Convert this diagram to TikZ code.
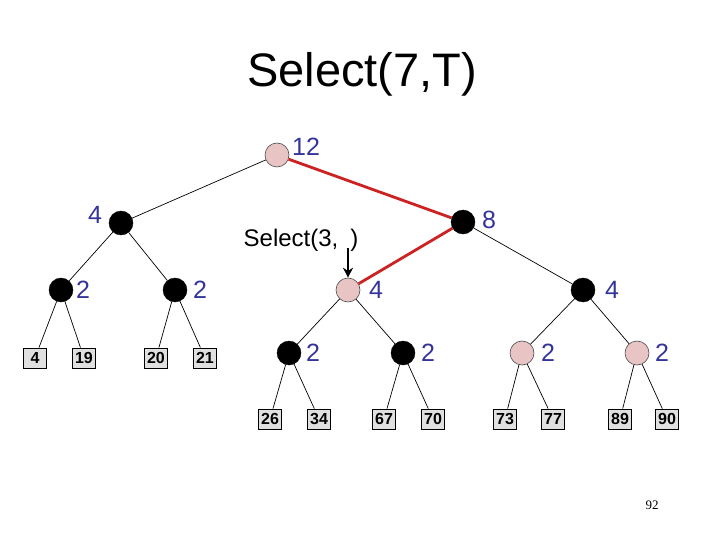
\documentclass[tikz,border=0pt]{standalone}
\usepackage{fontspec}
\setmainfont{Liberation Sans}
\newfontfamily\pagefont{Liberation Serif}
\usetikzlibrary{arrows.meta}
\definecolor{labelblue}{RGB}{51,51,153}
\definecolor{pathred}{RGB}{204,34,34}
\definecolor{dotpink}{RGB}{232,196,196}
\definecolor{leafgray}{RGB}{224,224,224}
\tikzset{
  blackknot/.style={circle,fill=black,draw=black,minimum size=24pt,inner sep=0pt},
  pinkknot/.style={circle,fill=dotpink,draw=black!70,line width=0.6pt,minimum size=24pt,inner sep=0pt},
  leafbox/.style={rectangle,fill=leafgray,draw=black,line width=0.8pt,minimum width=23pt,minimum height=20pt,inner sep=0pt,font=\fontsize{16}{16}\selectfont\bfseries},
  edge/.style={line width=0.7pt},
  rededge/.style={line width=2.8pt,pathred},
}
\begin{document}
\begin{tikzpicture}[x=1pt,y=-1pt]
  \useasboundingbox (0,0) rectangle (720,540);
  \def\knot#1#2#3#4#5#6#7{
    \node[#1] (#2) at (#3,#4){};
    \node[font=\fontsize{25}{25}\selectfont,labelblue] at (#6,#7){#5};
  }
  \def\leaf#1#2#3{
    \node[leafbox] (leaf#1) at (#2,#3){#1};
  }

  \node[font=\fontsize{47}{50}\selectfont] (title) at (362,74){Select(7,T)};

  %internal nodes
  \knot{pinkknot}{root}{277}{155}{12}{306}{147}
  \knot{blackknot}{l}{121}{223}{4}{95}{215}
  \knot{blackknot}{r}{463}{222}{8}{489}{220}
  \knot{blackknot}{ll}{61}{290}{2}{83}{290}
  \knot{blackknot}{lr}{175}{290}{2}{200}{290}
  \knot{pinkknot}{rl}{348}{290}{4}{376}{290}
  \knot{blackknot}{rr}{583}{290}{4}{612}{290}
  \knot{blackknot}{rll}{289}{353}{2}{313}{353}
  \knot{blackknot}{rlr}{403}{353}{2}{428}{353}
  \knot{pinkknot}{rrl}{522}{353}{2}{548}{353}
  \knot{pinkknot}{rrr}{637}{353}{2}{662}{353}

  %leaves
  \leaf{4}{35}{358}
  \leaf{19}{84}{358}
  \leaf{20}{156}{358}
  \leaf{21}{205}{358}
  \leaf{26}{270}{419}
  \leaf{34}{319}{419}
  \leaf{67}{384}{419}
  \leaf{70}{433}{419}
  \leaf{73}{505}{419}
  \leaf{77}{553}{419}
  \leaf{89}{620}{419}
  \leaf{90}{667}{419}

  %edges
  \draw[edge] (root) -- (l);
  \draw[edge] (l) -- (ll);
  \draw[edge] (l) -- (lr);
  \draw[edge] (ll) -- (leaf4);
  \draw[edge] (ll) -- (leaf19);
  \draw[edge] (lr) -- (leaf20);
  \draw[edge] (lr) -- (leaf21);
  \draw[edge] (r) -- (rr);
  \draw[edge] (rl) -- (rll);
  \draw[edge] (rl) -- (rlr);
  \draw[edge] (rr) -- (rrl);
  \draw[edge] (rr) -- (rrr);
  \draw[edge] (rll) -- (leaf26);
  \draw[edge] (rll) -- (leaf34);
  \draw[edge] (rlr) -- (leaf67);
  \draw[edge] (rlr) -- (leaf70);
  \draw[edge] (rrl) -- (leaf73);
  \draw[edge] (rrl) -- (leaf77);
  \draw[edge] (rrr) -- (leaf89);
  \draw[edge] (rrr) -- (leaf90);
  \draw[rededge] (root) -- (r);
  \draw[rededge] (r) -- (rl);

  %recursive call
  \node[font=\fontsize{24}{24}\selectfont] (call) at (301,240){Select(3,\hspace{0.5em})};
  \coordinate (callarrow) at (348,248);
  \draw[line width=2.2pt,-{Stealth[length=10pt,width=10pt]}] (callarrow) -- (rl);

  \node[font=\pagefont\fontsize{13}{13}\selectfont] (page) at (652,505){92};
\end{tikzpicture}
\end{document}
